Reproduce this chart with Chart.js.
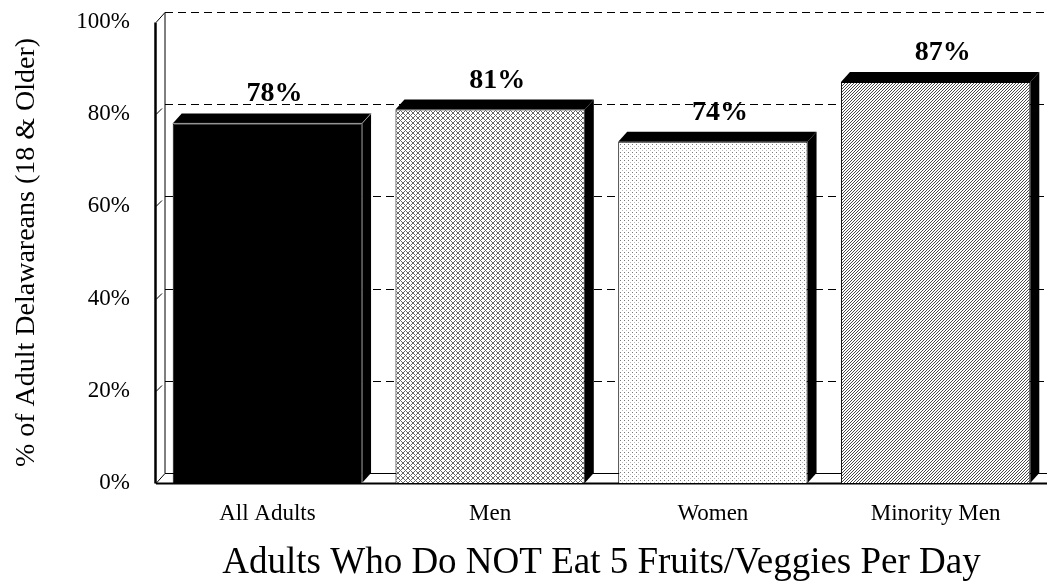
<!DOCTYPE html>
<html>
<head>
<meta charset="utf-8">
<script src="https://cdn.jsdelivr.net/npm/chart.js@4.4.1/dist/chart.umd.min.js"></script>
<style>
  html, body { margin: 0; padding: 0; background: #fff; }
  #wrap { width: 1047px; height: 584px; }
</style>
</head>
<body>
<div id="wrap"><canvas id="chart"></canvas></div>
<script>
var categories = ['All Adults', 'Men', 'Women', 'Minority Men'];
var pctNotFiveADay = [78, 81, 74, 87];
var yTickValues = [0, 20, 40, 60, 80, 100];
var yAxisTitle = '% of Adult Delawareans (18 & Older)';
var xAxisTitle = 'Adults Who Do NOT Eat 5 Fruits/Veggies Per Day';

var SERIF = '"Liberation Serif", "Times New Roman", Times, serif';
var DX = 9, DY = 10;   // depth of the 3d box

// tiny bitmap fills like the old office hatches
function hatch(size, pick) {
  var c = document.createElement('canvas');
  c.width = size; c.height = size;
  var g = c.getContext('2d');
  g.fillStyle = '#fff';
  g.fillRect(0, 0, size, size);
  for (var y = 0; y < size; y++) {
    for (var x = 0; x < size; x++) {
      var col = pick(x, y);
      if (col) { g.fillStyle = col; g.fillRect(x, y, 1, 1); }
    }
  }
  return g.createPattern(c, 'repeat');
}

var fills = [
  '#000',
  hatch(5, function(x, y) { return ((x + y) % 5 == 0 || (x - y + 5) % 5 == 0) ? '#666' : null; }),
  hatch(4, function(x, y) {
    if (x == 0 && y == 0) return '#777';
    if (x == 2 && y == 2) return '#bbb';
    return null;
  }),
  hatch(3, function(x, y) { return (x + y) % 3 == 0 ? '#4a4a4a' : null; })
];

function seg(ctx, x1, y1, x2, y2) {
  ctx.beginPath();
  ctx.moveTo(x1, y1);
  ctx.lineTo(x2, y2);
  ctx.stroke();
}

var box3d = {
  id: 'box3d',
  beforeDatasetsDraw: function(chart) {
    var ctx = chart.ctx, a = chart.chartArea, ys = chart.scales.y;
    var base = Math.round(ys.getPixelForValue(0)) + 0.5;
    ctx.save();
    ctx.strokeStyle = '#000';

    // back wall grid
    ctx.lineWidth = 1;
    ctx.setLineDash([8, 5]);
    yTickValues.forEach(function(v) {
      if (v == 0) return;
      var py = Math.round(ys.getPixelForValue(v)) - DY + 0.5;
      seg(ctx, a.left + DX, py, a.right, py);
    });
    ctx.setLineDash([]);

    // left wall
    var top = Math.round(ys.getPixelForValue(100)) + 0.5;
    ctx.lineWidth = 1;
    seg(ctx, a.left + DX, top - DY, a.left + DX, base - DY);
    seg(ctx, a.left, top, a.left + DX, top - DY);
    yTickValues.forEach(function(v) {
      if (v == 0 || v == 100) return;
      var py = Math.round(ys.getPixelForValue(v)) + 0.5;
      seg(ctx, a.left, py, a.left + 6, py - 6);
    });
    ctx.lineWidth = 2.5;
    seg(ctx, a.left - 0.5, top, a.left - 0.5, base);

    // floor
    ctx.lineWidth = 1;
    seg(ctx, a.left + DX, base - DY, a.right, base - DY);
    seg(ctx, a.left, base, a.left + DX, base - DY);
    ctx.lineWidth = 2;
    seg(ctx, a.left, base, a.right, base);
    ctx.restore();
  },
  afterDatasetsDraw: function(chart) {
    var ctx = chart.ctx;
    var meta = chart.getDatasetMeta(0);
    ctx.save();
    meta.data.forEach(function(bar, i) {
      var l = bar.x - bar.width / 2, r = bar.x + bar.width / 2;
      var t = bar.y, b = bar.base;
      ctx.fillStyle = '#000';
      // top face
      ctx.beginPath();
      ctx.moveTo(l, t); ctx.lineTo(l + DX, t - DY);
      ctx.lineTo(r + DX, t - DY); ctx.lineTo(r, t);
      ctx.closePath(); ctx.fill();
      // side face
      ctx.beginPath();
      ctx.moveTo(r, t); ctx.lineTo(r + DX, t - DY);
      ctx.lineTo(r + DX, b - DY); ctx.lineTo(r, b);
      ctx.closePath(); ctx.fill();
      if (fills[i] === '#000') {
        // light edges so the faces of the solid bar stay readable
        ctx.strokeStyle = '#999';
        ctx.lineWidth = 1;
        ctx.beginPath();
        ctx.moveTo(l, t); ctx.lineTo(r, t); ctx.lineTo(r, b);
        ctx.moveTo(r, t); ctx.lineTo(r + DX, t - DY);
        ctx.stroke();
      }
      // value label
      ctx.fillStyle = '#000';
      ctx.font = 'bold 28px ' + SERIF;
      ctx.textAlign = 'center';
      ctx.textBaseline = 'alphabetic';
      ctx.fillText(pctNotFiveADay[i] + '%', bar.x + 7, t - 22);
    });
    ctx.restore();
  }
};

new Chart(document.getElementById('chart'), {
  type: 'bar',
  data: {
    labels: categories,
    datasets: [{
      data: pctNotFiveADay,
      backgroundColor: fills,
      borderColor: '#000',
      borderWidth: 1,
      barPercentage: 0.85,
      categoryPercentage: 1.0
    }]
  },
  options: {
    responsive: true,
    maintainAspectRatio: false,
    animation: false,
    layout: { padding: { top: 22, right: 0, bottom: 0, left: 0 } },
    plugins: {
      legend: { display: false },
      tooltip: { enabled: false }
    },
    scales: {
      x: {
        grid: { display: false, drawTicks: false },
        border: { display: false },
        ticks: { color: '#000', font: { family: SERIF, size: 23 }, padding: 17, maxRotation: 0 },
        title: {
          display: true, text: xAxisTitle, color: '#000',
          font: { family: SERIF, size: 37, lineHeight: 1 },
          padding: { top: 0, bottom: 2 }
        },
        afterFit: function(s) { s.height = 101; }
      },
      y: {
        min: 0, max: 100,
        grid: { display: false, drawTicks: false },
        border: { display: false },
        ticks: {
          stepSize: 20, color: '#000', padding: 26,
          font: { family: SERIF, size: 23 },
          callback: function(v) { return v + '%'; }
        },
        title: {
          display: true, text: yAxisTitle, color: '#000',
          font: { family: SERIF, size: 28 },
          padding: { top: 10, bottom: 0 }
        },
        afterFit: function(s) {
          s.width = 156;
          // the tick padding is horizontal only here
          s.paddingTop = 0;
          s.paddingBottom = 0;
        }
      }
    }
  },
  plugins: [box3d]
});
</script>
</body>
</html>
